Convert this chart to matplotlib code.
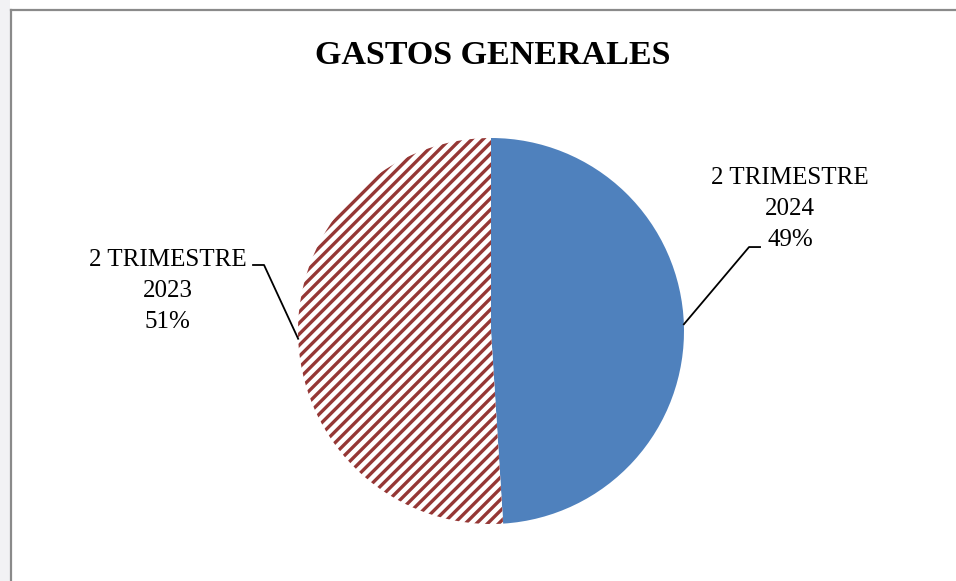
import numpy as np
import matplotlib
matplotlib.use("Agg")
import matplotlib.pyplot as plt
from matplotlib.lines import Line2D
from matplotlib.patches import Rectangle

title = "GASTOS GENERALES"
labels = ["2 TRIMESTRE\n2024", "2 TRIMESTRE\n2023"]
values = [49, 51]
colors = ["#4F81BD", "white"]

plt.rcParams["hatch.linewidth"] = 2.4
serif = ["Liberation Serif", "DejaVu Serif"]

W, H = 956, 581
fig = plt.figure(figsize=(W / 100, H / 100), dpi=100)

# light strip outside the chart frame, and the frame itself
fig.add_artist(Rectangle((0, 0), 10 / W, 1, transform=fig.transFigure,
                         facecolor="#f2f2f4", edgecolor="none"))
fig.add_artist(Line2D([11 / W, 11 / W], [0, 1 - 10 / H], transform=fig.transFigure,
                      color="#8a8a8a", lw=1.6))
fig.add_artist(Line2D([11 / W, 1], [1 - 10 / H, 1 - 10 / H], transform=fig.transFigure,
                      color="#8a8a8a", lw=1.6))

fig.text(493 / W, 1 - 56 / H, title, ha="center", va="center",
         fontsize=24.5, fontweight="bold", family=serif)

# pie centre (491, 331) px, radius 193 px
cx, cy, r = 491, 331, 193
ax = fig.add_axes([(cx - r) / W, (H - cy - r) / H, 2 * r / W, 2 * r / H])
wedges, _ = ax.pie(values, colors=colors, startangle=90, counterclock=False,
                   radius=1, wedgeprops=dict(linewidth=0))
wedges[1].set_hatch("///")
wedges[1].set_edgecolor("#953735")
wedges[1].set_linewidth(0)
ax.set_xlim(-1, 1)
ax.set_ylim(-1, 1)
ax.set_aspect("auto")
ax.axis("off")

# labels with leader lines
anchors = [2.0, 182.3]        # angle on the rim (deg)
elbows = [(1.337, 0.435, 1.394), (-1.176, 0.342, -1.233)]
text_pos = [(1.549, 0.632), (-1.674, 0.207)]
for i, (lab, v) in enumerate(zip(labels, values)):
    a = np.deg2rad(anchors[i])
    ex, ey, hx = elbows[i]
    ax.plot([np.cos(a), ex, hx], [np.sin(a), ey, ey], color="black", lw=1.3,
            clip_on=False)
    ax.text(text_pos[i][0], text_pos[i][1], f"{lab}\n{v}%", ha="center",
            va="center", fontsize=18, family=serif, linespacing=1.55,
            clip_on=False)

fig.savefig("out.png", dpi=100)
